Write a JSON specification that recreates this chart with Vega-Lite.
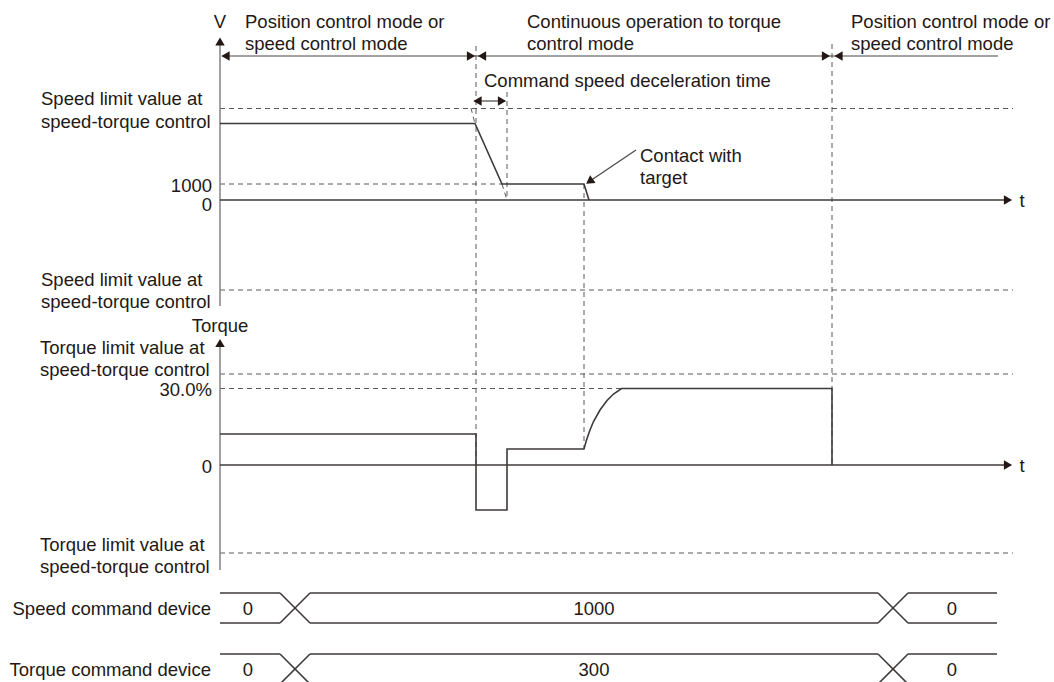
{
  "$schema": "https://vega.github.io/schema/vega-lite/v6.json",
  "width": 1054,
  "height": 682,
  "padding": 0,
  "autosize": {"type": "none"},
  "background": "white",
  "config": {"view": {"stroke": null}},
  "datasets": {
    "dashed": [
      {"t": 220, "v": 108.5, "t2": 1013, "v2": 108.5},
      {"t": 220, "v": 184, "t2": 502, "v2": 184},
      {"t": 220, "v": 290, "t2": 1013, "v2": 290},
      {"t": 220, "v": 374, "t2": 1013, "v2": 374},
      {"t": 220, "v": 388.5, "t2": 621, "v2": 388.5},
      {"t": 220, "v": 553, "t2": 1013, "v2": 553},
      {"t": 476, "v": 46, "t2": 476, "v2": 465},
      {"t": 507, "v": 92, "t2": 507, "v2": 200},
      {"t": 584, "v": 184, "t2": 584, "v2": 449},
      {"t": 832, "v": 44, "t2": 832, "v2": 465},
      {"t": 471, "v": 108, "t2": 475, "v2": 124},
      {"t": 502, "v": 184, "t2": 507, "v2": 200}
    ],
    "axes": [
      {"t": 220, "v": 42, "t2": 220, "v2": 306},
      {"t": 220, "v": 345, "t2": 220, "v2": 570}
    ],
    "thin": [
      {"t": 222, "v": 56, "t2": 998, "v2": 56},
      {"t": 474, "v": 101, "t2": 505, "v2": 101},
      {"t": 636, "v": 150, "t2": 590, "v2": 181}
    ],
    "solid": [
      {"t": 220, "v": 200, "t2": 1006, "v2": 200},
      {"t": 220, "v": 465, "t2": 1006, "v2": 465},
      {"t": 220, "v": 593, "t2": 280, "v2": 593},
      {"t": 220, "v": 623, "t2": 280, "v2": 623},
      {"t": 280, "v": 593, "t2": 310, "v2": 623},
      {"t": 280, "v": 623, "t2": 310, "v2": 593},
      {"t": 310, "v": 593, "t2": 878, "v2": 593},
      {"t": 310, "v": 623, "t2": 878, "v2": 623},
      {"t": 878, "v": 593, "t2": 908, "v2": 623},
      {"t": 878, "v": 623, "t2": 908, "v2": 593},
      {"t": 908, "v": 593, "t2": 997, "v2": 593},
      {"t": 908, "v": 623, "t2": 997, "v2": 623},
      {"t": 220, "v": 654, "t2": 280, "v2": 654},
      {"t": 220, "v": 684, "t2": 280, "v2": 684},
      {"t": 280, "v": 654, "t2": 310, "v2": 684},
      {"t": 280, "v": 684, "t2": 310, "v2": 654},
      {"t": 310, "v": 654, "t2": 878, "v2": 654},
      {"t": 310, "v": 684, "t2": 878, "v2": 684},
      {"t": 878, "v": 654, "t2": 908, "v2": 684},
      {"t": 878, "v": 684, "t2": 908, "v2": 654},
      {"t": 908, "v": 654, "t2": 997, "v2": 654},
      {"t": 908, "v": 684, "t2": 997, "v2": 684}
    ],
    "signals": [
      {"s": "speed", "i": 1, "t": 220, "v": 123.5},
      {"s": "speed", "i": 2, "t": 475, "v": 123.5},
      {"s": "speed", "i": 3, "t": 502, "v": 184},
      {"s": "speed", "i": 4, "t": 584, "v": 184},
      {"s": "speed", "i": 5, "t": 589, "v": 200},
      {"s": "torque", "i": 1, "t": 220, "v": 434},
      {"s": "torque", "i": 2, "t": 476, "v": 434},
      {"s": "torque", "i": 3, "t": 476, "v": 510},
      {"s": "torque", "i": 4, "t": 507, "v": 510},
      {"s": "torque", "i": 5, "t": 507, "v": 449},
      {"s": "torque", "i": 6, "t": 584, "v": 449},
      {"s": "torque", "i": 7, "t": 586.5, "v": 440},
      {"s": "torque", "i": 8, "t": 590, "v": 430},
      {"s": "torque", "i": 9, "t": 593.5, "v": 421.5},
      {"s": "torque", "i": 10, "t": 600, "v": 410},
      {"s": "torque", "i": 11, "t": 607, "v": 400.5},
      {"s": "torque", "i": 12, "t": 613.5, "v": 394},
      {"s": "torque", "i": 13, "t": 621.5, "v": 388.5},
      {"s": "torque", "i": 14, "t": 832, "v": 388.5},
      {"s": "torque", "i": 15, "t": 832, "v": 465}
    ],
    "arrowsRight": [
      {"t": 471, "v": 56},
      {"t": 826, "v": 56},
      {"t": 502, "v": 101},
      {"t": 1008, "v": 200},
      {"t": 1008, "v": 465}
    ],
    "arrowsLeft": [
      {"t": 225.5, "v": 56},
      {"t": 482, "v": 56},
      {"t": 838.5, "v": 56},
      {"t": 477.5, "v": 101}
    ],
    "arrowsUp": [
      {"t": 220, "v": 41.5},
      {"t": 220, "v": 343}
    ],
    "arrowContact": [
      {"t": 589.5, "v": 181.5}
    ],
    "textLeft": [
      {"t": 245, "v": 22, "label": "Position control mode or"},
      {"t": 245, "v": 44, "label": "speed control mode"},
      {"t": 527, "v": 22, "label": "Continuous operation to torque"},
      {"t": 527, "v": 44, "label": "control mode"},
      {"t": 851, "v": 22, "label": "Position control mode or"},
      {"t": 851, "v": 44, "label": "speed control mode"},
      {"t": 484, "v": 81, "label": "Command speed deceleration time"},
      {"t": 640, "v": 156, "label": "Contact with"},
      {"t": 640, "v": 178, "label": "target"},
      {"t": 41, "v": 98.5, "label": "Speed limit value at"},
      {"t": 41, "v": 121.5, "label": "speed-torque control"},
      {"t": 41, "v": 280, "label": "Speed limit value at"},
      {"t": 41, "v": 302, "label": "speed-torque control"},
      {"t": 40, "v": 348, "label": "Torque limit value at"},
      {"t": 40, "v": 370, "label": "speed-torque control"},
      {"t": 40, "v": 545, "label": "Torque limit value at"},
      {"t": 40, "v": 567, "label": "speed-torque control"}
    ],
    "textRight": [
      {"t": 212, "v": 185.5, "label": "1000"},
      {"t": 212, "v": 204.5, "label": "0"},
      {"t": 212, "v": 390, "label": "30.0%"},
      {"t": 212, "v": 467, "label": "0"},
      {"t": 211, "v": 609, "label": "Speed command device"},
      {"t": 211, "v": 670, "label": "Torque command device"}
    ],
    "textCenter": [
      {"t": 220, "v": 22, "label": "V"},
      {"t": 220, "v": 326, "label": "Torque"},
      {"t": 1022, "v": 201, "label": "t"},
      {"t": 1022, "v": 466, "label": "t"},
      {"t": 248, "v": 609, "label": "0"},
      {"t": 594, "v": 609, "label": "1000"},
      {"t": 952, "v": 609, "label": "0"},
      {"t": 248, "v": 670, "label": "0"},
      {"t": 594, "v": 670, "label": "300"},
      {"t": 952, "v": 670, "label": "0"}
    ]
  },
  "encoding": {
    "x": {"field": "t", "type": "quantitative", "scale": {"domain": [0, 1054], "nice": false, "zero": false}, "axis": null},
    "y": {"field": "v", "type": "quantitative", "scale": {"domain": [0, 682], "nice": false, "zero": false, "reverse": true}, "axis": null}
  },
  "layer": [
    {
      "data": {"name": "dashed"},
      "mark": {"type": "rule", "color": "#5a5656", "strokeWidth": 1, "strokeDash": [5, 4]},
      "encoding": {"x2": {"field": "t2"}, "y2": {"field": "v2"}}
    },
    {
      "data": {"name": "axes"},
      "mark": {"type": "rule", "color": "#8a8a8a", "strokeWidth": 1.6},
      "encoding": {"x2": {"field": "t2"}, "y2": {"field": "v2"}}
    },
    {
      "data": {"name": "thin"},
      "mark": {"type": "rule", "color": "#4a4646", "strokeWidth": 1.2},
      "encoding": {"x2": {"field": "t2"}, "y2": {"field": "v2"}}
    },
    {
      "data": {"name": "solid"},
      "mark": {"type": "rule", "color": "#3e3a39", "strokeWidth": 1.6},
      "encoding": {"x2": {"field": "t2"}, "y2": {"field": "v2"}}
    },
    {
      "data": {"name": "signals"},
      "mark": {"type": "line", "color": "#3e3a39", "strokeWidth": 1.6, "strokeJoin": "miter"},
      "encoding": {"detail": {"field": "s"}, "order": {"field": "i", "type": "quantitative"}}
    },
    {
      "data": {"name": "arrowsRight"},
      "mark": {"type": "point", "shape": "triangle-right", "filled": true, "size": 90, "color": "#231815", "opacity": 1, "strokeWidth": 0}
    },
    {
      "data": {"name": "arrowsLeft"},
      "mark": {"type": "point", "shape": "triangle-left", "filled": true, "size": 90, "color": "#231815", "opacity": 1, "strokeWidth": 0}
    },
    {
      "data": {"name": "arrowsUp"},
      "mark": {"type": "point", "shape": "triangle-up", "filled": true, "size": 90, "color": "#231815", "opacity": 1, "strokeWidth": 0}
    },
    {
      "data": {"name": "arrowContact"},
      "mark": {"type": "point", "shape": "triangle-up", "angle": 235, "filled": true, "size": 90, "color": "#231815", "opacity": 1, "strokeWidth": 0}
    },
    {
      "data": {"name": "textLeft"},
      "mark": {"type": "text", "align": "left", "baseline": "middle", "font": "Liberation Sans", "fontSize": 18.5, "color": "#231815"},
      "encoding": {"text": {"field": "label"}}
    },
    {
      "data": {"name": "textRight"},
      "mark": {"type": "text", "align": "right", "baseline": "middle", "font": "Liberation Sans", "fontSize": 18.5, "color": "#231815"},
      "encoding": {"text": {"field": "label"}}
    },
    {
      "data": {"name": "textCenter"},
      "mark": {"type": "text", "align": "center", "baseline": "middle", "font": "Liberation Sans", "fontSize": 18.5, "color": "#231815"},
      "encoding": {"text": {"field": "label"}}
    }
  ]
}
